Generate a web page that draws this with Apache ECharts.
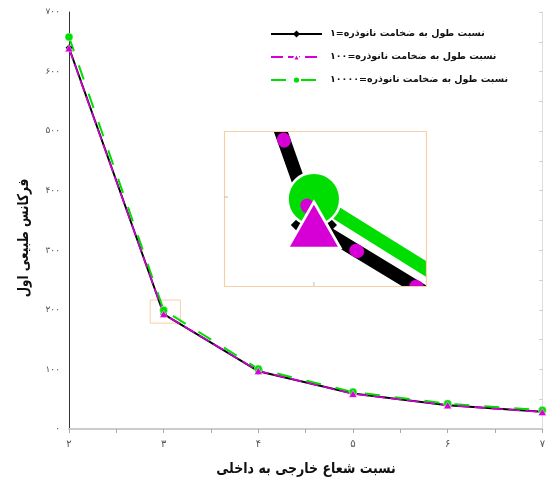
<!DOCTYPE html>
<html>
<head>
<meta charset="utf-8">
<script src="https://cdn.jsdelivr.net/npm/echarts@6/dist/echarts.min.js"></script>
<style>
  html, body { margin: 0; padding: 0; background: #fff; }
  #chart { width: 548px; height: 484px; }
</style>
</head>
<body>
<div id="chart"></div>
<script>
// Outer-to-inner radius ratio (x) and first natural frequency for three aspect ratios
const radiusRatio = [2, 3, 4, 5, 6, 7];
const freqAR1 = [640, 193, 97, 59.5, 40, 29];
const freqAR100 = [639, 193, 97.5, 59, 40, 28.5];
const freqAR10000 = [658, 199.5, 100.8, 62, 42.5, 31.5];

const seriesNames = [
  'نسبت طول به ضخامت نانوذره=۱',
  'نسبت طول به ضخامت نانوذره=۱۰۰',
  'نسبت طول به ضخامت نانوذره=۱۰۰۰۰'
];
const xTitle = 'نسبت شعاع خارجی به داخلی';
const yTitle = 'فرکانس طبیعی اول';

// Window shown enlarged in the inset (data coordinates)
const zoomX = [2.858, 3.177];
const zoomY = [177.75, 216.5];

const FONT = 'DejaVu Sans';
const faDigits = v => String(v).replace(/\d/g, d => '۰۱۲۳۴۵۶۷۸۹'[d]);
const pairs = ys => radiusRatio.map((x, i) => [x, ys[i]]);

// Inset box in pixels; the line clip is widened by half the stroke width,
// so the inset grid is shrunk by that amount and its ranges narrowed to match.
const inset = { left: 224, top: 131, width: 202, height: 155 };
const insetScale = 6.6;
const insetStroke = 2 * insetScale;
const pad = insetStroke / 2;
const dxPerPx = (zoomX[1] - zoomX[0]) / inset.width;
const dyPerPx = (zoomY[1] - zoomY[0]) / inset.height;
const innerX = [zoomX[0] + pad * dxPerPx, zoomX[1] - pad * dxPerPx];
const innerY = [zoomY[0] + pad * dyPerPx, zoomY[1] - pad * dyPerPx];

// Dash patterns used inside the inset
const greenDash = [150, 90];
const magentaDash = [2, 68];

const chart = echarts.init(document.getElementById('chart'), null, { renderer: 'canvas' });

function makeSeries(grid, scale) {
  const onMain = grid === 0;
  return [
    {
      name: seriesNames[0], type: 'line', xAxisIndex: grid * 2, yAxisIndex: grid * 2,
      data: pairs(freqAR1), symbol: 'diamond', symbolSize: 7 * scale,
      itemStyle: { color: '#000' },
      lineStyle: { color: '#000', width: 2 * scale },
      clip: true, animation: false, z: 3,
      markArea: onMain ? {
        silent: true,
        itemStyle: { color: 'rgba(0,0,0,0)', borderColor: '#f9cfa6', borderWidth: 1 },
        data: [[{ coord: [zoomX[0], zoomY[1]] }, { coord: [zoomX[1], zoomY[0]] }]]
      } : undefined
    },
    {
      name: seriesNames[2], type: 'line', xAxisIndex: grid * 2, yAxisIndex: grid * 2,
      data: pairs(freqAR10000), symbol: 'circle', symbolSize: 8 * scale,
      itemStyle: { color: '#00dd00', borderColor: '#fff', borderWidth: 0.4 * scale },
      lineStyle: onMain
        ? { color: '#00dd00', width: 2, type: [15, 15] }
        : { color: '#00dd00', width: 2 * scale, type: greenDash, cap: 'round' },
      clip: true, animation: false, z: 3
    },
    {
      name: seriesNames[1], type: 'line', xAxisIndex: grid * 2, yAxisIndex: grid * 2,
      data: pairs(freqAR100), symbol: 'triangle', symbolSize: [8 * scale, 7 * scale],
      itemStyle: { color: '#d600d6', borderColor: '#fff', borderWidth: 0.4 * scale },
      lineStyle: onMain
        ? { color: '#d600d6', width: 1.6, type: [12, 5] }
        : { color: '#d600d6', width: 2 * scale, type: magentaDash, cap: 'round' },
      clip: true, animation: false, z: onMain ? 3 : 4
    }
  ];
}

const axisGray = '#cccccc';

const option = {
  backgroundColor: '#fff',
  animation: false,
  textStyle: { fontFamily: FONT },
  grid: [
    { left: 69, right: 5, top: 12, bottom: 55 },
    { left: inset.left + pad, top: inset.top + pad,
      width: inset.width - 2 * pad, height: inset.height - 2 * pad, show: false }
  ],
  legend: {
    data: seriesNames,
    orient: 'vertical',
    left: 270, top: 29, padding: 0,
    itemWidth: 51, itemHeight: 9, itemGap: 13,
    textStyle: { fontFamily: FONT, fontSize: 9.5, fontWeight: 'bold', color: '#111', padding: [0, 0, 0, 3] }
  },
  xAxis: [
    {
      type: 'value', gridIndex: 0, position: 'bottom', min: 2, max: 7, interval: 0.5,
      axisLine: { lineStyle: { color: axisGray, width: 2 } },
      axisTick: { show: true, inside: false, length: 3, lineStyle: { color: '#bbb' } },
      splitLine: { show: false },
      axisLabel: {
        color: '#555', fontSize: 10, margin: 10, fontFamily: FONT,
        formatter: v => Number.isInteger(v) ? faDigits(v) : ''
      }
    },
    {
      type: 'value', gridIndex: 0, position: 'top', min: 2, max: 7, interval: 0.5,
      axisLine: { lineStyle: { color: axisGray, width: 1 } },
      axisTick: { show: true, inside: true, length: 4, lineStyle: { color: '#aaa' } },
      axisLabel: { show: false }, splitLine: { show: false }
    },
    {
      type: 'value', gridIndex: 1, min: innerX[0], max: innerX[1],
      axisLine: { show: false }, axisLabel: { show: false }, splitLine: { show: false },
      axisTick: { show: false }
    },
    {
      type: 'value', gridIndex: 1, position: 'top', min: innerX[0], max: innerX[1], show: false
    }
  ],
  yAxis: [
    {
      type: 'value', gridIndex: 0, position: 'left', min: 0, max: 700, interval: 100,
      axisLine: { show: true, lineStyle: { color: '#333', width: 1 } },
      axisTick: { show: false },
      splitLine: { show: false },
      axisLabel: { color: '#555', fontSize: 9, margin: 9, fontFamily: FONT, formatter: v => faDigits(v) }
    },
    {
      type: 'value', gridIndex: 0, position: 'right', min: 0, max: 700, interval: 50,
      axisLine: { show: true, lineStyle: { color: '#dddddd', width: 1 } },
      axisTick: { show: true, inside: true, length: 3, lineStyle: { color: '#ccc' } },
      axisLabel: { show: false }, splitLine: { show: false }
    },
    {
      type: 'value', gridIndex: 1, min: innerY[0], max: innerY[1],
      axisLine: { show: false }, axisLabel: { show: false }, splitLine: { show: false },
      axisTick: { show: false }
    },
    {
      type: 'value', gridIndex: 1, position: 'right', min: innerY[0], max: innerY[1], show: false
    }
  ],
  graphic: [
    {
      type: 'text', x: 24, y: 238, rotation: Math.PI / 2, scaleX: 0.8, z: 10,
      style: {
        text: yTitle, fontFamily: FONT, fontSize: 15, fontWeight: 'bold', fill: '#111',
        align: 'center', verticalAlign: 'middle'
      }
    },
    {
      type: 'text', x: 306, y: 469, scaleX: 0.84, z: 10,
      style: {
        text: xTitle, fontFamily: FONT, fontSize: 15, fontWeight: 'bold', fill: '#111',
        align: 'center', verticalAlign: 'middle'
      }
    },
    {
      // inset frame
      type: 'rect', z: 20, silent: true,
      shape: { x: inset.left + 0.5, y: inset.top + 0.5, width: inset.width, height: inset.height },
      style: { fill: 'none', stroke: '#f9cfa6', lineWidth: 1.2 }
    }
  ],
  series: [...makeSeries(0, 1), ...makeSeries(1, insetScale)]
};

chart.setOption(option);

// Phase the inset dash patterns relative to the x = 3 vertex
function segLen(ys) {
  const a = chart.convertToPixel({ xAxisIndex: 2, yAxisIndex: 2 }, [radiusRatio[0], ys[0]]);
  const b = chart.convertToPixel({ xAxisIndex: 2, yAxisIndex: 2 }, [radiusRatio[1], ys[1]]);
  return Math.hypot(b[0] - a[0], b[1] - a[1]);
}
function offsetFor(len, dash, phaseAtVertex) {
  const period = dash[0] + dash[1];
  return (((phaseAtVertex - len) % period) + period) % period;
}
const greenOffset = offsetFor(segLen(freqAR10000), greenDash, 4);
const magentaOffset = offsetFor(segLen(freqAR100), magentaDash, 21);

// Small reference ticks inside the inset at x = 3 and y = 200
const px = chart.convertToPixel({ xAxisIndex: 2, yAxisIndex: 2 }, [3, 200]);
chart.setOption({
  series: [{}, {}, {}, {},
    { lineStyle: { dashOffset: greenOffset } },
    { lineStyle: { dashOffset: magentaOffset } }],
  graphic: [{}, {}, {},
    { type: 'line', z: 21, silent: true,
      shape: { x1: px[0], y1: inset.top + inset.height, x2: px[0], y2: inset.top + inset.height - 4 },
      style: { stroke: '#bbb', lineWidth: 1 } },
    { type: 'line', z: 21, silent: true,
      shape: { x1: inset.left, y1: px[1], x2: inset.left + 4, y2: px[1] },
      style: { stroke: '#bbb', lineWidth: 1 } }
  ]
});
</script>
</body>
</html>
